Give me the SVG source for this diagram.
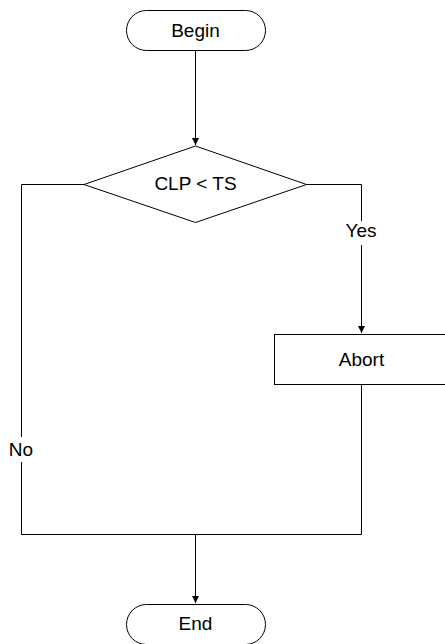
<svg xmlns="http://www.w3.org/2000/svg" width="445" height="644" viewBox="0 0 445 644">
<defs>
<style>
.shape{fill:#fff;stroke:#000;stroke-width:1}
.line{fill:none;stroke:#000;stroke-width:1}
text{font-family:"Liberation Sans",Arial,sans-serif;font-size:19px;fill:#000;text-anchor:middle}
.bg{fill:#fff;stroke:none}
</style>
<marker id="arr" markerWidth="8" markerHeight="8" refX="7" refY="4" orient="auto" markerUnits="userSpaceOnUse">
<path d="M0,0.5 L7,4 L0,7.5 Z" fill="#000"/>
</marker>
</defs>
<rect width="445" height="644" fill="#fff"/>
<g id="connectors">
<path class="line" d="M195.5,50 V145" marker-end="url(#arr)"/>
<path class="line" d="M84,184.5 H21.5 V534.5 H361.5 V384"/>
<path class="line" d="M306,184.5 H361.5 V333" marker-end="url(#arr)"/>
<path class="line" d="M195.5,534.5 V603" marker-end="url(#arr)"/>
<rect class="bg" x="7" y="437" width="29" height="25"/>
<text x="21" y="456">No</text>
<rect class="bg" x="342" y="221" width="38" height="24"/>
<text x="361" y="237">Yes</text>
</g>
<g id="begin">
<rect class="shape" x="126.5" y="10.5" width="139" height="40" rx="20" ry="20"/>
<text x="195.5" y="37">Begin</text>
</g>
<g id="decision">
<polygon class="shape" points="84,184.5 195.5,146 306.5,184.5 195.5,222.5"/>
<text x="195.5" y="190">CLP &lt; TS</text>
</g>
<g id="abort">
<rect class="shape" x="274.5" y="334.5" width="175" height="50"/>
<text x="361.5" y="366">Abort</text>
</g>
<g id="end">
<rect class="shape" x="126.5" y="604.5" width="139" height="40" rx="20" ry="20"/>
<text x="195.5" y="630">End</text>
</g>
</svg>
